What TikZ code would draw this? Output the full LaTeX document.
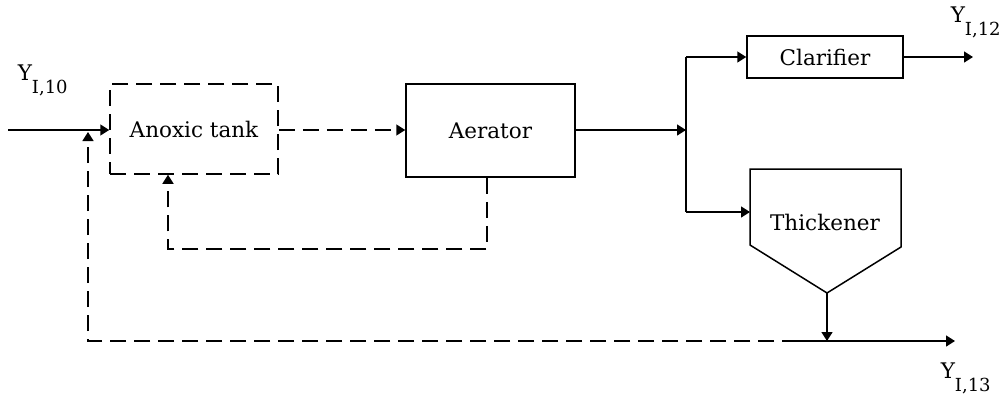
\documentclass[tikz,border=0pt]{standalone}
\usepackage{fontspec}
\setmainfont{DejaVu Serif}
\usetikzlibrary{arrows.meta}

\begin{document}
\begin{tikzpicture}[x=1pt,y=-1pt,
  line width=1.5pt,
  every node/.style={font=\fontsize{21.5}{24}\selectfont, inner sep=0pt},
  unit/.style={draw, rectangle},
  flow/.style={-{Triangle[length=9pt,width=11pt]}},
  dashline/.style={dash pattern=on 16pt off 8pt},
  stream/.style={anchor=base west}
]
\newcommand{\sublabel}[1]{\raisebox{-13pt}{\fontsize{18}{20}\selectfont #1}}
\useasboundingbox (0,0) rectangle (1005,399);

% process units
\node[unit, dashline, minimum width=168, minimum height=90] (anox) at (194,129) {Anoxic tank};
\node[unit, minimum width=169, minimum height=93] (aer) at (490.5,130.5) {Aerator};
\node[unit, minimum width=156, minimum height=42] (clar) at (825,57) {Clarifier};

% thickener with conical bottom
\coordinate (thkTL) at (750,169);
\coordinate (thkTR) at (901,169);
\coordinate (thkR) at (901,247);
\coordinate (thkB) at (827,293);
\coordinate (thkL) at (750,245);
\draw (thkL) -- (thkTL) -- (thkTR) -- (thkR) -- (thkB) -- cycle;
\node (thk) at (825,222) {Thickener};
\coordinate (thkin) at (750,212);

% stream labels
\node[stream] (y10) at (17,80) {Y\sublabel{I,10}};
\node[stream] (y12) at (950,22) {Y\sublabel{I,12}};
\node[stream] (y13) at (940,378) {Y\sublabel{I,13}};

% auxiliary points
\coordinate (feed) at (8,130);
\coordinate (split) at (686,130);
\coordinate (splitT) at (686,57);
\coordinate (splitB) at (686,212);
\coordinate (out12) at (973,57);
\coordinate (join) at (827,341);
\coordinate (seg) at (798,341);
\coordinate (out13) at (955,341);
\coordinate (recL) at (88,341);
\coordinate (recT) at (88,132);
\coordinate (irA) at (487,249);
\coordinate (irB) at (168,249);

% main line
\draw[flow] (feed) -- (anox.west |- feed);
\draw[flow, dashline] (anox.east |- feed) -- (aer.west |- feed);
\draw[flow] (aer.east |- split) -- (split);
\draw (splitT) -- (splitB);
\draw[flow] (splitT) -- (clar.west);
\draw[flow] (splitB) -- (thkin);
\draw[flow] (clar.east) -- (out12);

% sludge withdrawal
\draw[flow] (thkB) -- (join);
\draw[flow] (seg) -- (out13);
\draw[flow, dashline] (seg) -- (recL) -- (recT);

% internal recycle
\draw[flow, dashline] (aer.south -| irA) -- (irA) -- (irB) -- (anox.south -| irB);
\end{tikzpicture}
\end{document}
